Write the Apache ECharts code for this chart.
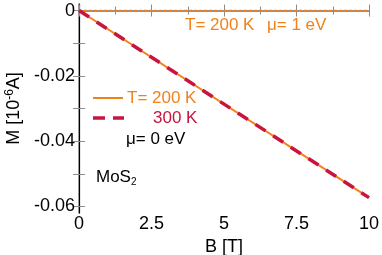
<!DOCTYPE html>
<html><head><meta charset="utf-8">
<script src="https://cdn.jsdelivr.net/npm/echarts@6/dist/echarts.min.js"></script>
<style>html,body{margin:0;padding:0;background:#fff}#c{width:382px;height:255px}</style>
</head><body><div id="c"></div>
<script>
var bField = [0, 10];
var m200 = [0, -0.0573];
var m300 = [0, -0.0573];
var m200mu1 = [0, 0];
var xTicks = [0, 2.5, 5, 7.5, 10];
var yTicks = [0, -0.02, -0.04, -0.06];

var ORANGE = '#f08219', CRIMSON = '#c8143e', AX = '#8c8c8c';
var FONT = 'Liberation Sans';
var FS = 17, AFS = 18;
function pairs(ys){ return bField.map(function(b,i){return [b, ys[i]];}); }

var chart = echarts.init(document.getElementById('c'));
var axLine = {show:true,lineStyle:{color:AX,width:1.5}};
var tick = {show:true,inside:true,length:6,lineStyle:{color:AX,width:1}};
var minor = {show:true,splitNumber:2,length:4,lineStyle:{color:AX,width:1}};
function txt(x,y,t,color){
  return {type:'text',z:10,style:{x:x,y:y,text:t,fill:color,fontSize:FS,fontFamily:FONT,verticalAlign:'middle',align:'left'}};
}
chart.setOption({
  animation:false,
  grid:{left:79,right:13,top:4,bottom:42,containLabel:false,outerBoundsMode:'none'},
  xAxis:[
    {type:'value',min:0,max:10,interval:2.5,position:'bottom',
      axisLine:axLine,axisTick:tick,minorTick:minor,splitLine:{show:false},
      axisLabel:{color:'#000',fontSize:AFS,fontFamily:FONT,margin:2,
        customValues:xTicks,formatter:function(v){return String(v);}},
      name:'B [T]',nameLocation:'middle',nameGap:24,
      nameTextStyle:{color:'#000',fontSize:AFS,fontFamily:FONT}},
    {type:'value',min:0,max:10,interval:2.5,position:'top',
      axisLine:{show:true,lineStyle:{color:AX,width:1.5}},axisTick:tick,minorTick:minor,
      splitLine:{show:false},axisLabel:{show:false}}
  ],
  yAxis:[
    {type:'value',min:-0.062,max:0.002,position:'left',
      axisLine:axLine,splitLine:{show:false},minorTick:{show:false},
      axisLabel:{color:'#000',fontSize:AFS,fontFamily:FONT,margin:4,
        customValues:yTicks,
        formatter:function(v){return v===0?'0':String(+v.toFixed(2));}},
      axisTick:{show:true,inside:true,length:6,customValues:[0,-0.01,-0.02,-0.03,-0.04,-0.05,-0.06],lineStyle:{color:AX,width:1}},
      name:'{a|M [10}{s|-6}{a|A]}',nameLocation:'middle',nameGap:48,nameRotate:90,
      nameTextStyle:{rich:{a:{color:'#000',fontSize:AFS,fontFamily:FONT},
        s:{color:'#000',fontSize:12,fontFamily:FONT,verticalAlign:'top',padding:[0,0,8,0]}}}},
    {type:'value',min:-0.062,max:0.002,position:'right',
      axisLine:{show:true,lineStyle:{color:'#000',width:1.2}},
      axisLabel:{show:false},
      axisTick:{show:true,inside:true,length:6,customValues:[0,-0.01,-0.02,-0.03,-0.04,-0.05,-0.06],lineStyle:{color:AX,width:1}},
      splitLine:{show:false}}
  ],
  series:[
    {type:'line',data:pairs(m200),symbol:'none',lineStyle:{color:ORANGE,width:2},z:3},
    {type:'line',data:pairs(m300),symbol:'none',lineStyle:{color:CRIMSON,width:3.5,type:[12,9]},z:4},
    {type:'line',data:pairs(m200mu1),symbol:'none',lineStyle:{color:ORANGE,width:1.5,type:[3,2]},z:3}
  ],
  graphic:[
    txt(185,25,'T= 200 K',ORANGE),
    txt(267,25,'μ= 1 eV',ORANGE),
    {type:'line',shape:{x1:93,y1:98,x2:123,y2:98},style:{stroke:ORANGE,lineWidth:2}},
    txt(127,98,'T= 200 K',ORANGE),
    {type:'line',shape:{x1:93,y1:118,x2:124,y2:118},style:{stroke:CRIMSON,lineWidth:3.5,lineDash:[12,8]}},
    txt(153,118,'300 K',CRIMSON),
    txt(126,139,'μ= 0 eV','#000'),
    {type:'text',z:10,style:{x:96,y:168,rich:{a:{fontSize:FS,fontFamily:FONT,fill:'#000'},s:{fontSize:10,fontFamily:FONT,fill:'#000',padding:[9,0,0,0]}},text:'{a|MoS}{s|2}'}}
  ]
});
</script></body></html>
